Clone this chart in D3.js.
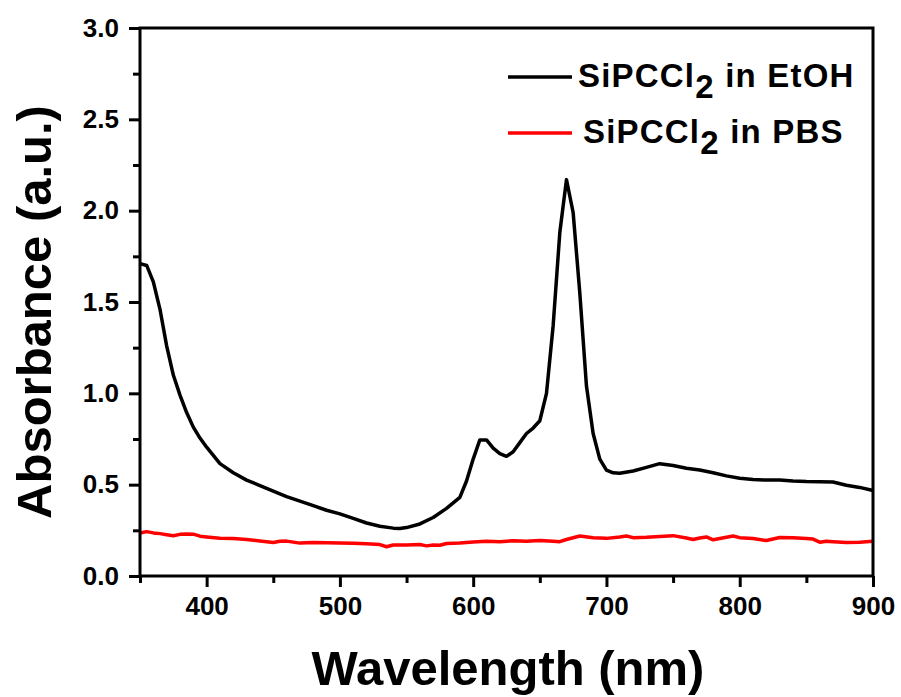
<!DOCTYPE html>
<meta charset="utf-8">
<script src="https://d3js.org/d3.v7.min.js"></script>
<style>
    body { margin: 0; background: #fff; }
    text { font-family: 'Liberation Sans', Arial, sans-serif; font-weight: bold; fill: #000; }
</style>
<div id="my_dataviz"></div>
<script>
    // wavelengths (nm) and absorbance
    var ethanolWl = [350, 355, 360, 365, 370, 375, 380, 385, 390, 395, 400, 410, 420, 430, 440, 450, 460, 470, 480, 490, 500,
        510, 520, 530, 540, 545, 550, 560, 570, 580, 590, 595, 600, 605, 610, 615, 620, 625, 630, 635, 640, 645, 650,
        655, 660, 665, 670, 675, 680, 685, 690, 695, 700, 705, 710, 720, 730, 740, 750, 760, 770, 780, 790, 800,
        810, 820, 830, 840, 850, 860, 870, 880, 890, 900];
    var ethanolAbs = [1.71, 1.70, 1.61, 1.46, 1.26, 1.10, 0.99, 0.895, 0.815, 0.755, 0.705, 0.615, 0.565, 0.525, 0.495, 0.465, 0.435, 0.41, 0.385, 0.36, 0.34,
        0.315, 0.29, 0.272, 0.262, 0.26, 0.265, 0.285, 0.32, 0.37, 0.43, 0.52, 0.64, 0.745, 0.745, 0.70, 0.67, 0.655, 0.68, 0.73, 0.78, 0.81, 0.85,
        1.0, 1.37, 1.88, 2.17, 1.99, 1.55, 1.04, 0.78, 0.64, 0.58, 0.565, 0.562, 0.575, 0.595, 0.615, 0.605, 0.59, 0.58, 0.565, 0.548, 0.535,
        0.528, 0.525, 0.525, 0.52, 0.517, 0.516, 0.515, 0.497, 0.485, 0.468];

    var pbsWl = [350, 355, 360, 365, 370, 375, 380, 385, 390, 395, 400, 410, 420, 430, 440, 450, 455, 460, 470, 480, 490, 500,
        510, 520, 530, 535, 540, 550, 560, 565, 570, 575, 580, 590, 600, 610, 620, 630, 640, 650, 660, 665, 670, 680, 690, 700,
        710, 715, 720, 730, 740, 750, 760, 765, 770, 775, 780, 790, 795, 800, 810, 820, 830, 840, 850, 855, 860, 865, 870, 880, 890, 900];
    var pbsAbs = [0.235, 0.243, 0.236, 0.232, 0.226, 0.22, 0.228, 0.23, 0.229, 0.218, 0.214, 0.207, 0.205, 0.2, 0.192, 0.183, 0.19, 0.191, 0.18, 0.183, 0.182, 0.18,
        0.179, 0.176, 0.172, 0.16, 0.17, 0.17, 0.172, 0.165, 0.17, 0.168, 0.178, 0.181, 0.186, 0.19, 0.188, 0.193, 0.19, 0.195, 0.19, 0.188, 0.2, 0.219, 0.21, 0.206,
        0.214, 0.219, 0.21, 0.212, 0.216, 0.221, 0.208, 0.2, 0.208, 0.214, 0.198, 0.212, 0.219, 0.21, 0.205, 0.194, 0.211, 0.209, 0.205, 0.202, 0.185, 0.19, 0.188, 0.183, 0.185, 0.19];

    var xTicks = [400, 500, 600, 700, 800, 900];
    var xMinor = [350, 450, 550, 650, 750, 850];
    var yTicks = [0.0, 0.5, 1.0, 1.5, 2.0, 2.5, 3.0];
    var yMinor = [0.25, 0.75, 1.25, 1.75, 2.25, 2.75];

    var seriesNames = ["SiPCCl", "SiPCCl"];
    var seriesTails = [" in EtOH", " in PBS"];
    var seriesColors = ["#000000", "#ff0000"];

    var width = 901, height = 697;
    var margin = { top: 28, right: 28, bottom: 121, left: 140 };

    var svg = d3.select("#my_dataviz")
        .append("svg")
        .attr("width", width)
        .attr("height", height);

    var x = d3.scaleLinear().domain([350, 900]).range([margin.left, width - margin.right]);
    var y = d3.scaleLinear().domain([0, 3]).range([height - margin.bottom, margin.top]);

    // curves
    var line = d3.line()
        .x(function(d) { return x(d[0]); })
        .y(function(d) { return y(d[1]); });

    var series = [
        d3.zip(ethanolWl, ethanolAbs),
        d3.zip(pbsWl, pbsAbs)
    ];

    svg.selectAll("path.curve")
        .data(series)
        .enter()
        .append("path")
        .attr("class", "curve")
        .attr("fill", "none")
        .attr("stroke", function(d, i) { return seriesColors[i]; })
        .attr("stroke-width", 3.5)
        .attr("stroke-linejoin", "round")
        .attr("d", line);

    // frame
    svg.append("rect")
        .attr("x", x(350)).attr("y", y(3))
        .attr("width", x(900) - x(350)).attr("height", y(0) - y(3))
        .attr("fill", "none").attr("stroke", "#000").attr("stroke-width", 3);

    // x axis
    svg.append("g")
        .attr("transform", "translate(0," + y(0) + ")")
        .call(d3.axisBottom(x).tickValues(xTicks).tickSize(11).tickPadding(10).tickFormat(d3.format("d")));
    svg.append("g")
        .attr("transform", "translate(0," + y(0) + ")")
        .call(d3.axisBottom(x).tickValues(xMinor).tickSize(7).tickFormat(""));

    // y axis
    svg.append("g")
        .attr("transform", "translate(" + x(350) + ",0)")
        .call(d3.axisLeft(y).tickValues(yTicks).tickSize(11).tickPadding(10).tickFormat(d3.format(".1f")));
    svg.append("g")
        .attr("transform", "translate(" + x(350) + ",0)")
        .call(d3.axisLeft(y).tickValues(yMinor).tickSize(7).tickFormat(""));

    svg.selectAll(".domain").remove();
    svg.selectAll(".tick line").attr("stroke", "#000").attr("stroke-width", 3);
    svg.selectAll(".tick text")
        .attr("fill", "#000")
        .style("font-family", "'Liberation Sans', Arial, sans-serif")
        .style("font-weight", "bold")
        .style("font-size", "26px");

    // axis titles
    svg.append("text")
        .attr("x", 508)
        .attr("y", 685)
        .attr("text-anchor", "middle")
        .style("font-size", "49px")
        .text("Wavelength (nm)");

    svg.append("text")
        .attr("transform", "translate(51," + 312 + ") rotate(-90)")
        .attr("text-anchor", "middle")
        .style("font-size", "49px")
        .text("Absorbance (a.u.)");

    // legend
    var legendY = [77, 133];
    var legend = svg.selectAll("g.legend")
        .data(seriesNames)
        .enter()
        .append("g")
        .attr("class", "legend");

    legend.append("line")
        .attr("x1", 508).attr("x2", 572)
        .attr("y1", function(d, i) { return legendY[i]; })
        .attr("y2", function(d, i) { return legendY[i]; })
        .attr("stroke", function(d, i) { return seriesColors[i]; })
        .attr("stroke-width", 3.5);

    var ltext = legend.append("text")
        .attr("x", function(d, i) { return i === 0 ? 578 : 583; })
        .attr("y", function(d, i) { return legendY[i] + 10; })
        .style("font-size", "33px")
        .style("letter-spacing", "1.2px");
    ltext.append("tspan").text(function(d) { return d; });
    ltext.append("tspan").attr("dy", 11).text("2");
    ltext.append("tspan").attr("dy", -11).text(function(d, i) { return seriesTails[i]; });
</script>
